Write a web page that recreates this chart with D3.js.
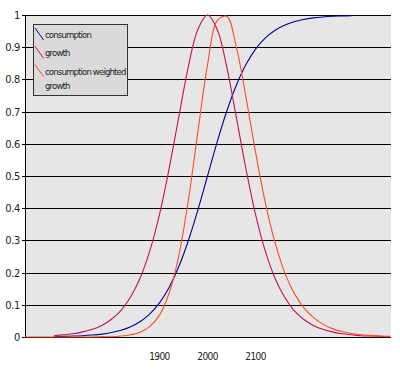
<!DOCTYPE html>
<html>
<head>
<meta charset="utf-8">
<script src="https://cdn.jsdelivr.net/npm/d3@7/dist/d3.min.js"></script>
<style>
body{margin:0;background:#fff;}
text{font-family:"DejaVu Sans Condensed","DejaVu Sans",sans-serif;font-stretch:condensed;fill:#222;}
</style>
</head>
<body>
<script>
// years sampled every 20 years
var years = [1620,1640,1660,1680,1700,1720,1740,1760,1780,1800,1820,1840,1860,1880,1900,1920,1940,1960,1980,
	2000,2020,2040,2060,2080,2100,2120,2140,2160,2180,2200,2220,2240,2260,2280,2300,2320,2340,2360,2380];
var consumption = [null,null,null,0.001,0.002,0.003,0.004,0.006,0.009,0.014,0.021,0.032,0.048,0.072,0.106,0.154,0.218,0.299,0.395,
	0.5,0.605,0.701,0.782,0.846,0.894,0.928,0.952,0.968,0.979,0.986,0.991,0.994,0.996,0.997,0.998,null,null,null,null];
var growth = [null,null,null,0.004,0.007,0.010,0.016,0.024,0.036,0.055,0.083,0.125,0.184,0.268,0.380,0.522,0.682,0.839,0.956,
	1.0,0.956,0.839,0.682,0.522,0.380,0.268,0.184,0.125,0.083,0.055,0.036,0.024,0.016,0.010,0.007,0.004,0.003,0.002,0.001];
var weighted = [0,0,0,0,0,0,0,0,0.001,0.001,0.003,0.007,0.015,0.033,0.068,0.136,0.251,0.424,0.638,
	0.845,0.982,0.996,0.900,0.745,0.574,0.419,0.296,0.203,0.137,0.092,0.061,0.040,0.026,0.017,0.011,0.007,0.005,0.003,0.002];
var yTicks = [0,0.1,0.2,0.3,0.4,0.5,0.6,0.7,0.8,0.9,1];
var xTicks = [1900,2000,2100];
var seriesNames = ["consumption","growth","consumption weighted\ngrowth"];
var seriesColors = ["#000099","#cc1050","#ff4d26"];

var W = 400, H = 371;
var svg = d3.select("body").append("svg").attr("width",W).attr("height",H);

var x = d3.scaleLinear().domain([1620,2382]).range([25,391]);
var y = d3.scaleLinear().domain([0,1]).range([337,15]);

svg.append("rect").attr("x",25).attr("y",15).attr("width",366).attr("height",322).attr("fill","#e6e6e6");

// grid
svg.selectAll(".grid").data(yTicks).enter().append("line")
	.attr("x1",22).attr("x2",391)
	.attr("y1",d=>Math.round(y(d))+0.5).attr("y2",d=>Math.round(y(d))+0.5)
	.attr("stroke","#000").attr("stroke-width",1);
svg.append("line").attr("x1",25.5).attr("x2",25.5).attr("y1",15).attr("y2",337)
	.attr("stroke","#000");

svg.selectAll(".ylab").data(yTicks).enter().append("text")
	.attr("x",20).attr("y",d=>y(d)+4)
	.attr("text-anchor","end").attr("font-size","11px").attr("letter-spacing","-0.3px")
	.text(d=>d);

svg.selectAll(".xlab").data(xTicks).enter().append("text")
	.attr("x",d=>x(d)).attr("y",360)
	.attr("text-anchor","middle").attr("font-size","10px").attr("letter-spacing","-0.6px")
	.text(d=>d);

var all = [consumption,growth,weighted];
var line = d3.line()
	.defined(d=>d[1]!==null)
	.x(d=>x(d[0])).y(d=>y(d[1]))
	.curve(d3.curveCatmullRom.alpha(0.5));

all.forEach(function(vals,i){
	var pts = years.map((yr,j)=>[yr,vals[j]]);
	svg.append("path").attr("d",line(pts))
		.attr("fill","none").attr("stroke",seriesColors[i]).attr("stroke-width",1.1);
});

// legend
var lg = svg.append("g");
lg.append("rect").attr("x",33.5).attr("y",24.5).attr("width",94).attr("height",71)
	.attr("fill","#dadada").attr("stroke","#333");
seriesNames.forEach(function(n,i){
	var ty = 28 + i*18.3;
	lg.append("line").attr("x1",35).attr("y1",ty).attr("x2",43.5).attr("y2",ty+12)
		.attr("stroke",seriesColors[i]);
	n.split("\n").forEach(function(s,k){
		lg.append("text").attr("x",45).attr("y",ty+10+k*14)
			.attr("font-size","9.5px").attr("letter-spacing","-0.85px").text(s);
	});
});
</script>
</body>
</html>
